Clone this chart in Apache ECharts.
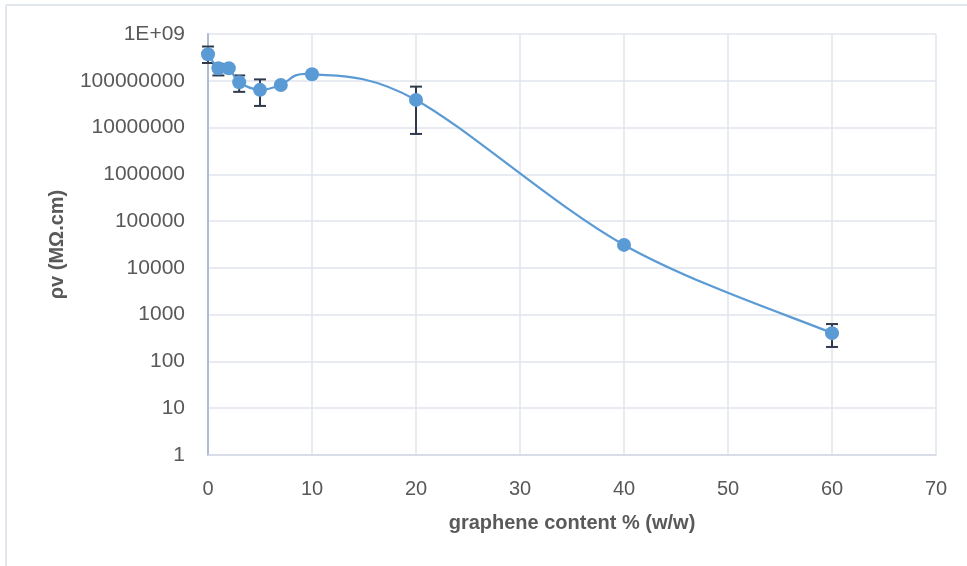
<!DOCTYPE html>
<html>
<head>
<meta charset="utf-8">
<script src="https://cdn.jsdelivr.net/npm/echarts@6/dist/echarts.min.js"></script>
<style>
  html, body { margin: 0; padding: 0; background: #fff; }
  #chart { width: 967px; height: 566px; }
</style>
</head>
<body>
<div id="chart"></div>
<script>
// graphene content vs volume resistivity
const contenido = [0, 1, 2, 3, 5, 7, 10, 20, 40, 60];
const resistividad = [3.7e8, 1.85e8, 1.85e8, 9.3e7, 6.4e7, 8.1e7, 1.38e8, 3.9e7, 3.1e4, 403];
const errorBajo = [2.4e8, 1.3e8, null, 5.8e7, 2.9e7, null, null, 7.3e6, null, 204];
const errorAlto = [5.4e8, 2.3e8, null, 1.3e8, 1.07e8, null, null, 7.5e7, null, 630];
const ticksX = [0, 10, 20, 30, 40, 50, 60, 70];

const azul = "#5b9bd5";
const texto = "#595959";
const fuente = "Liberation Sans, Arial, sans-serif";

const puntos = contenido.map((x, i) => [x, resistividad[i]]);
const barras = contenido
  .map((x, i) => [x, errorBajo[i], errorAlto[i]])
  .filter((d) => d[1] !== null);

const chart = echarts.init(document.getElementById("chart"));

// curva suavizada tipo excel (bezier con tangentes de los vecinos)
function renderCurva(params, api) {
  const i = params.dataIndex;
  const n = puntos.length;
  if (i >= n - 1) return null;
  const p = (k) => api.coord(puntos[Math.max(0, Math.min(n - 1, k))]);
  const p0 = p(i - 1);
  const p1 = p(i);
  const p2 = p(i + 1);
  const p3 = p(i + 2);
  return {
    type: "bezierCurve",
    shape: {
      x1: p1[0],
      y1: p1[1],
      cpx1: p1[0] + (p2[0] - p0[0]) / 6,
      cpy1: p1[1] + (p2[1] - p0[1]) / 6,
      cpx2: p2[0] - (p3[0] - p1[0]) / 6,
      cpy2: p2[1] - (p3[1] - p1[1]) / 6,
      x2: p2[0],
      y2: p2[1],
    },
    style: { stroke: azul, lineWidth: 2.25, fill: null },
  };
}

chart.setOption({
  backgroundColor: "#fff",
  animation: false,
  grid: { left: 208, right: 31, top: 34, bottom: 111 },
  graphic: [
    {
      type: "line",
      shape: { x1: 6, y1: 5, x2: 967, y2: 5 },
      style: { stroke: "#e1e5ec", lineWidth: 2 },
    },
    {
      type: "line",
      shape: { x1: 6, y1: 5, x2: 6, y2: 566 },
      style: { stroke: "#e1e5ec", lineWidth: 2 },
    },
  ],
  xAxis: {
    type: "value",
    min: 0,
    max: 70,
    interval: 10,
    name: "graphene content % (w/w)",
    nameLocation: "middle",
    nameGap: 58,
    nameTextStyle: { color: texto, fontFamily: fuente, fontSize: 20, fontWeight: "bold" },
    axisLine: { show: true, lineStyle: { color: "#d3d9e4", width: 1.5 } },
    axisTick: { show: false },
    axisLabel: {
      color: texto,
      fontFamily: fuente,
      fontSize: 20,
      margin: 24,
      formatter: (v) => (ticksX.includes(v) ? String(v) : ""),
    },
    splitLine: { show: true, lineStyle: { color: "#e1e5ec", width: 1.5 } },
  },
  yAxis: {
    type: "log",
    logBase: 10,
    min: 1,
    max: 1e9,
    splitNumber: 9,
    name: "ρv (MΩ.cm)",
    nameLocation: "middle",
    nameGap: 141,
    nameRotate: 90,
    nameTextStyle: { color: texto, fontFamily: fuente, fontSize: 20, fontWeight: "bold" },
    axisLine: { show: true, lineStyle: { color: "#aebcd4", width: 2 } },
    axisTick: { show: false },
    axisLabel: {
      color: texto,
      fontFamily: fuente,
      fontSize: 21,
      margin: 23,
      formatter: (v) => {
        const n = Math.round(v);
        return n >= 1e9 ? "1E+09" : String(n);
      },
    },
    splitLine: { show: true, lineStyle: { color: "#e1e5ec", width: 1.5 } },
  },
  series: [
    {
      name: "curva",
      type: "custom",
      z: 2,
      data: puntos,
      renderItem: renderCurva,
    },
    {
      name: "error",
      type: "custom",
      z: 1,
      data: barras,
      renderItem: (params, api) => {
        const x = api.value(0);
        const abajo = api.coord([x, api.value(1)]);
        const arriba = api.coord([x, api.value(2)]);
        const w = 6;
        const estilo = { stroke: "#2e3a4b", lineWidth: 2 };
        return {
          type: "group",
          children: [
            { type: "line", shape: { x1: arriba[0], y1: arriba[1], x2: abajo[0], y2: abajo[1] }, style: estilo },
            { type: "line", shape: { x1: arriba[0] - w, y1: arriba[1], x2: arriba[0] + w, y2: arriba[1] }, style: estilo },
            { type: "line", shape: { x1: abajo[0] - w, y1: abajo[1], x2: abajo[0] + w, y2: abajo[1] }, style: estilo },
          ],
        };
      },
    },
    {
      name: "ρv",
      type: "scatter",
      z: 3,
      data: puntos,
      symbol: "circle",
      symbolSize: 14,
      itemStyle: { color: azul, opacity: 1 },
    },
  ],
});
</script>
</body>
</html>
